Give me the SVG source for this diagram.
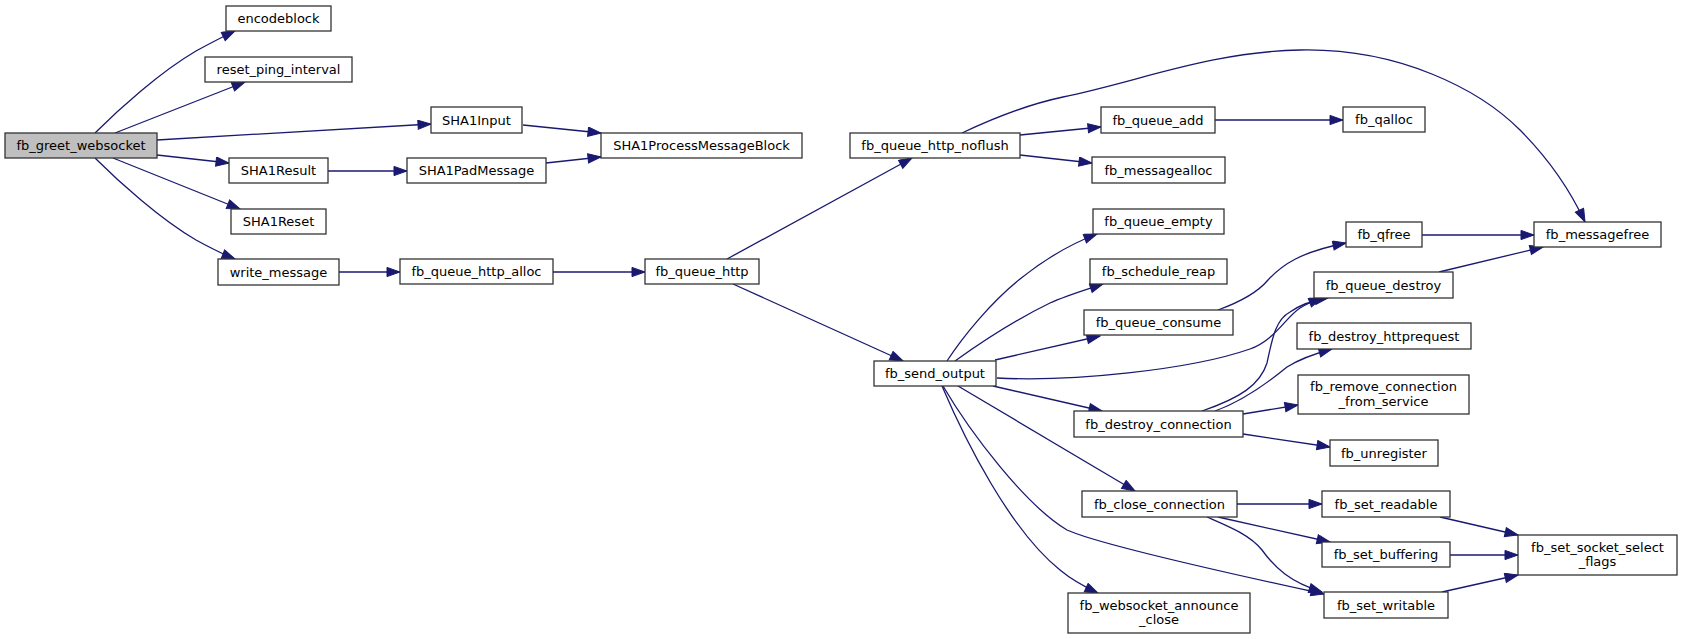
<svg xmlns="http://www.w3.org/2000/svg" width="1681" height="639" viewBox="0 0 1681 639">
<style>
.n rect{fill:#ffffff;stroke:#333333;stroke-width:1.3}
.root rect{fill:#bfbfbf}
text{font-family:"DejaVu Sans","Liberation Sans",sans-serif;font-size:13px;fill:#000000;text-anchor:middle}
#edges path{fill:none;stroke:#191970;stroke-width:1.3;marker-end:url(#ah)}
</style>
<defs>
<marker id="ah" markerUnits="userSpaceOnUse" markerWidth="16" markerHeight="12" refX="14" refY="5" orient="auto" viewBox="0 0 16 12">
<path d="M1,0.4 L14,5 L1,9.6 Z" fill="#191970" stroke="#191970" stroke-width="1"/>
</marker>
</defs>
<rect width="1681" height="639" fill="#ffffff"/>
<g id="edges">
<path d="M95,133 C118,110 160,72 196,51 C207,45 220,38 235,31"/>
<path d="M115,133 L245,82"/>
<path d="M157,140 L431,124"/>
<path d="M157,155 L229,163"/>
<path d="M113,158 L240,209"/>
<path d="M95,158 C118,181 160,219 196,240 C207,246 220,253 235,259"/>
<path d="M328,171 L407,171"/>
<path d="M523,125 L601,133"/>
<path d="M546,163 L601,157"/>
<path d="M339,272 L400,272"/>
<path d="M553,272 L645,272"/>
<path d="M727,259 L912,158"/>
<path d="M733,284 L903,361"/>
<path d="M1020,135 L1101,127"/>
<path d="M1020,155 L1092,163"/>
<path d="M962,133 C1000,115 1030,104 1063,97 C1140,81 1210,52 1300,50 C1400,48 1480,90 1520,130 C1550,160 1570,190 1585,222"/>
<path d="M1215,120 L1343,120"/>
<path d="M1422,235 L1534,235"/>
<path d="M1439,272 L1543,247"/>
<path d="M947,361 C962,338 990,303 1020,279 C1040,263 1065,246 1097,234"/>
<path d="M955,361 C980,343 1015,320 1050,303 C1065,296 1085,290 1103,284"/>
<path d="M995,360 L1100,336"/>
<path d="M997,378 C1070,382 1190,370 1250,349 C1275,340 1285,318 1300,308 C1306,304 1314,301 1322,298"/>
<path d="M1218,310 C1240,302 1258,292 1268,280 C1282,265 1300,252 1346,243"/>
<path d="M1202,411 C1240,398 1260,385 1267,363 C1272,340 1275,320 1290,312 C1300,305 1315,300 1328,298"/>
<path d="M1215,411 C1240,402 1265,385 1287,367 C1298,360 1310,355 1332,349"/>
<path d="M1243,414 L1298,405"/>
<path d="M1243,434 L1330,447"/>
<path d="M993,386 L1102,411"/>
<path d="M958,386 L1135,491"/>
<path d="M942,386 C965,440 1010,530 1060,570 C1072,580 1085,587 1098,593"/>
<path d="M943,386 C970,432 1025,505 1067,530 C1100,545 1250,578 1324,594"/>
<path d="M1237,504 L1322,504"/>
<path d="M1218,517 L1330,542"/>
<path d="M1207,517 C1230,527 1250,535 1262,550 C1275,568 1290,582 1322,592"/>
<path d="M1440,517 L1518,535"/>
<path d="M1450,555 L1518,555"/>
<path d="M1442,592 L1518,575"/>
</g>
<g id="fb_greet_websocket" class="n root"><rect x="5" y="133" width="152" height="25"/><text x="81" y="150">fb_greet_websocket</text></g>
<g id="encodeblock" class="n"><rect x="226" y="6" width="105" height="25"/><text x="278.5" y="23">encodeblock</text></g>
<g id="reset_ping_interval" class="n"><rect x="205" y="57" width="147" height="25"/><text x="278.5" y="74">reset_ping_interval</text></g>
<g id="SHA1Input" class="n"><rect x="431" y="107" width="91" height="26"/><text x="476.5" y="124.5">SHA1Input</text></g>
<g id="SHA1Result" class="n"><rect x="229" y="158" width="99" height="25"/><text x="278.5" y="175">SHA1Result</text></g>
<g id="SHA1Reset" class="n"><rect x="231" y="209" width="95" height="25"/><text x="278.5" y="226">SHA1Reset</text></g>
<g id="write_message" class="n"><rect x="218" y="259" width="121" height="26"/><text x="278.5" y="276.5">write_message</text></g>
<g id="SHA1ProcessMessageBlock" class="n"><rect x="601" y="133" width="201" height="25"/><text x="701.5" y="150">SHA1ProcessMessageBlock</text></g>
<g id="SHA1PadMessage" class="n"><rect x="407" y="158" width="139" height="25"/><text x="476.5" y="175">SHA1PadMessage</text></g>
<g id="fb_queue_http_alloc" class="n"><rect x="400" y="259" width="153" height="25"/><text x="476.5" y="276">fb_queue_http_alloc</text></g>
<g id="fb_queue_http" class="n"><rect x="645" y="259" width="114" height="25"/><text x="702" y="276">fb_queue_http</text></g>
<g id="fb_queue_http_noflush" class="n"><rect x="850" y="133" width="170" height="25"/><text x="935" y="150">fb_queue_http_noflush</text></g>
<g id="fb_send_output" class="n"><rect x="874" y="361" width="122" height="25"/><text x="935" y="378">fb_send_output</text></g>
<g id="fb_queue_add" class="n"><rect x="1101" y="107" width="114" height="26"/><text x="1158" y="124.5">fb_queue_add</text></g>
<g id="fb_messagealloc" class="n"><rect x="1092" y="157" width="133" height="26"/><text x="1158.5" y="174.5">fb_messagealloc</text></g>
<g id="fb_messagefree" class="n"><rect x="1534" y="222" width="127" height="25"/><text x="1597.5" y="239">fb_messagefree</text></g>
<g id="fb_qalloc" class="n"><rect x="1343" y="107" width="82" height="25"/><text x="1384" y="124">fb_qalloc</text></g>
<g id="fb_queue_empty" class="n"><rect x="1093" y="209" width="131" height="25"/><text x="1158.5" y="226">fb_queue_empty</text></g>
<g id="fb_schedule_reap" class="n"><rect x="1090" y="259" width="137" height="25"/><text x="1158.5" y="276">fb_schedule_reap</text></g>
<g id="fb_queue_consume" class="n"><rect x="1084" y="310" width="149" height="25"/><text x="1158.5" y="327">fb_queue_consume</text></g>
<g id="fb_queue_destroy" class="n"><rect x="1314" y="272" width="139" height="26"/><text x="1383.5" y="289.5">fb_queue_destroy</text></g>
<g id="fb_destroy_connection" class="n"><rect x="1074" y="411" width="169" height="26"/><text x="1158.5" y="428.5">fb_destroy_connection</text></g>
<g id="fb_close_connection" class="n"><rect x="1082" y="491" width="155" height="26"/><text x="1159.5" y="508.5">fb_close_connection</text></g>
<g id="fb_websocket_announce_close" class="n"><rect x="1068" y="593" width="182" height="40"/><text x="1159" y="609.5">fb_websocket_announce</text><text x="1159" y="624">_close</text></g>
<g id="fb_qfree" class="n"><rect x="1346" y="222" width="76" height="25"/><text x="1384" y="239">fb_qfree</text></g>
<g id="fb_destroy_httprequest" class="n"><rect x="1297" y="323" width="174" height="26"/><text x="1384" y="340.5">fb_destroy_httprequest</text></g>
<g id="fb_remove_connection_from_service" class="n"><rect x="1298" y="375" width="171" height="39"/><text x="1383.5" y="391">fb_remove_connection</text><text x="1383.5" y="405.5">_from_service</text></g>
<g id="fb_unregister" class="n"><rect x="1330" y="440" width="108" height="26"/><text x="1384" y="457.5">fb_unregister</text></g>
<g id="fb_set_readable" class="n"><rect x="1322" y="491" width="128" height="26"/><text x="1386" y="508.5">fb_set_readable</text></g>
<g id="fb_set_buffering" class="n"><rect x="1322" y="542" width="128" height="25"/><text x="1386" y="559">fb_set_buffering</text></g>
<g id="fb_set_writable" class="n"><rect x="1324" y="592" width="124" height="26"/><text x="1386" y="609.5">fb_set_writable</text></g>
<g id="fb_set_socket_select_flags" class="n"><rect x="1518" y="535" width="159" height="40"/><text x="1597.5" y="551.5">fb_set_socket_select</text><text x="1597.5" y="566">_flags</text></g>
</svg>
